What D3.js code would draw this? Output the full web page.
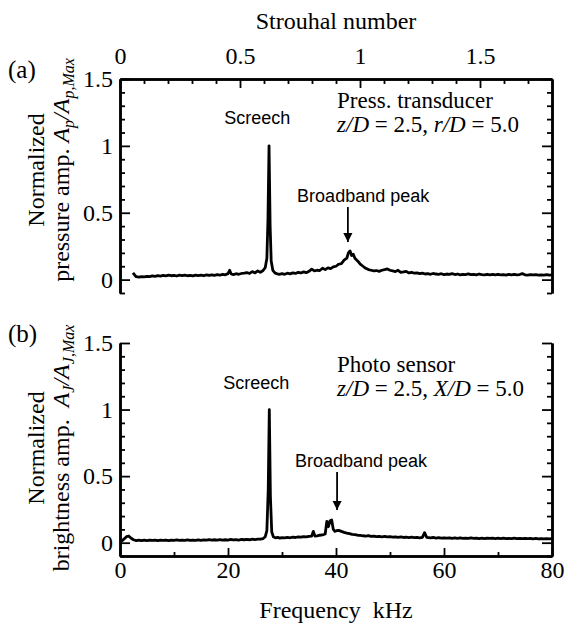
<!DOCTYPE html>
<html><head><meta charset="utf-8">
<script src="https://cdn.jsdelivr.net/npm/d3@7"></script>
<style>body{margin:0;background:#fff}svg{display:block}</style>
</head><body>
<svg id="chart" width="565" height="626"></svg>
<script>
// ---- data ----
const freqTicksMajor = [0, 20, 40, 60, 80];
const freqTicksMinor = [10, 30, 50, 70];
const stTicksMajor = [0, 0.5, 1, 1.5];
const stTicksMinor = [0.1,0.2,0.3,0.4,0.6,0.7,0.8,0.9,1.1,1.2,1.3,1.4,1.6,1.7];
const ampTicksMajor = [0, 0.5, 1, 1.5];
const ampTicksMinor = [-0.1,0.1,0.2,0.3,0.4,0.6,0.7,0.8,0.9,1.1,1.2,1.3,1.4];
const freqDomain = [0, 80];
const stDomain = [0, 1.8];
const ampDomain = [-0.1, 1.5];

// panel (a): pressure transducer spectrum [kHz, normalized amplitude]
const pressure = [[2.4,0.05],[2.7,0.035],[3.0,0.022],[3.5,0.018],[4.0,0.022],[4.5,0.02],[5.0,0.025],[5.5,0.022],[6.0,0.028],[6.5,0.025],[7.0,0.03],[7.5,0.026],[8.0,0.031],[8.5,0.028],[9.0,0.033],[9.5,0.029],[10.0,0.032],[10.5,0.027],[11.0,0.033],[11.5,0.03],[12.0,0.034],[12.5,0.029],[13.0,0.032],[13.5,0.028],[14.0,0.034],[14.5,0.03],[15.0,0.033],[15.5,0.029],[16.0,0.035],[16.5,0.031],[17.0,0.036],[17.5,0.032],[18.0,0.037],[18.5,0.033],[19.0,0.04],[19.5,0.036],[20.0,0.045],[20.3,0.07],[20.6,0.042],[21.0,0.038],[21.5,0.044],[22.0,0.04],[22.5,0.046],[23.0,0.048],[23.5,0.052],[24.0,0.046],[24.5,0.06],[25.0,0.05],[25.5,0.065],[26.0,0.055],[26.5,0.068],[26.9,0.09],[27.2,0.16],[27.4,0.45],[27.6,1.0],[27.8,0.4],[28.0,0.14],[28.3,0.07],[28.7,0.05],[29.0,0.045],[29.5,0.04],[30.0,0.044],[30.5,0.04],[31.0,0.048],[31.5,0.043],[32.0,0.05],[32.5,0.046],[33.0,0.055],[33.5,0.05],[34.0,0.058],[34.5,0.052],[35.0,0.062],[35.5,0.078],[36.0,0.065],[36.5,0.07],[37.0,0.068],[37.5,0.085],[38.0,0.075],[38.5,0.088],[39.0,0.082],[39.5,0.095],[40.0,0.1],[40.5,0.115],[41.0,0.12],[41.5,0.145],[42.0,0.16],[42.3,0.2],[42.6,0.215],[42.9,0.18],[43.2,0.19],[43.5,0.16],[44.0,0.14],[44.5,0.115],[45.0,0.1],[45.5,0.085],[46.0,0.075],[46.5,0.07],[47.0,0.065],[47.5,0.068],[48.0,0.062],[48.5,0.07],[49.0,0.075],[49.5,0.08],[50.0,0.07],[50.5,0.065],[51.0,0.06],[51.5,0.07],[52.0,0.055],[52.5,0.058],[53.0,0.062],[53.5,0.05],[54.0,0.055],[54.5,0.048],[55.0,0.05],[55.5,0.045],[56.0,0.048],[56.5,0.042],[57.0,0.045],[57.5,0.04],[58.0,0.046],[58.5,0.042],[59.0,0.04],[59.5,0.044],[60.0,0.038],[60.5,0.042],[61.0,0.04],[61.5,0.045],[62.0,0.038],[62.5,0.042],[63.0,0.036],[63.5,0.04],[64.0,0.038],[64.5,0.043],[65.0,0.037],[65.5,0.04],[66.0,0.036],[66.5,0.042],[67.0,0.038],[67.5,0.035],[68.0,0.04],[68.5,0.036],[69.0,0.039],[69.5,0.035],[70.0,0.04],[70.5,0.036],[71.0,0.038],[71.5,0.034],[72.0,0.039],[72.5,0.036],[73.0,0.04],[73.5,0.035],[74.0,0.038],[74.5,0.045],[75.0,0.036],[75.5,0.034],[76.0,0.038],[76.5,0.035],[77.0,0.037],[77.5,0.033],[78.0,0.036],[78.5,0.034],[79.0,0.037],[79.5,0.033],[80.0,0.035]];

// panel (b): photo sensor spectrum [kHz, normalized amplitude]
const brightness = [[0.3,0.01],[0.8,0.03],[1.2,0.045],[1.6,0.05],[2.0,0.035],[2.5,0.022],[3.0,0.016],[3.5,0.019],[4.0,0.015],[4.5,0.019],[5.0,0.016],[5.5,0.02],[6.0,0.017],[6.5,0.019],[7.0,0.015],[7.5,0.019],[8.0,0.017],[8.5,0.02],[9.0,0.016],[9.5,0.019],[10.0,0.017],[10.5,0.021],[11.0,0.017],[11.5,0.02],[12.0,0.018],[12.5,0.021],[13.0,0.017],[13.5,0.02],[14.0,0.018],[14.5,0.022],[15.0,0.018],[15.5,0.021],[16.0,0.019],[16.5,0.023],[17.0,0.019],[17.5,0.022],[18.0,0.02],[18.5,0.023],[19.0,0.019],[19.5,0.022],[20.0,0.02],[20.5,0.024],[21.0,0.021],[21.5,0.023],[22.0,0.02],[22.5,0.024],[23.0,0.022],[23.5,0.025],[24.0,0.022],[24.5,0.026],[25.0,0.023],[25.5,0.027],[26.0,0.026],[26.5,0.031],[26.9,0.045],[27.2,0.09],[27.45,0.4],[27.65,1.0],[27.85,0.35],[28.1,0.08],[28.4,0.045],[28.8,0.036],[29.2,0.04],[29.6,0.034],[30.0,0.038],[30.5,0.036],[31.0,0.04],[31.5,0.037],[32.0,0.042],[32.5,0.039],[33.0,0.044],[33.5,0.041],[34.0,0.046],[34.5,0.043],[35.0,0.048],[35.5,0.05],[35.8,0.085],[36.1,0.05],[36.5,0.052],[37.0,0.056],[37.5,0.058],[38.0,0.065],[38.3,0.16],[38.6,0.12],[38.9,0.165],[39.2,0.17],[39.5,0.1],[39.8,0.085],[40.1,0.09],[40.5,0.092],[41.0,0.085],[41.5,0.078],[42.0,0.072],[42.5,0.068],[43.0,0.062],[43.5,0.06],[44.0,0.056],[44.5,0.055],[45.0,0.052],[45.5,0.05],[46.0,0.053],[46.5,0.048],[47.0,0.05],[47.5,0.046],[48.0,0.048],[48.5,0.044],[49.0,0.047],[49.5,0.043],[50.0,0.045],[50.5,0.042],[51.0,0.044],[51.5,0.04],[52.0,0.043],[52.5,0.039],[53.0,0.042],[53.5,0.038],[54.0,0.041],[54.5,0.038],[55.0,0.04],[55.5,0.037],[56.0,0.04],[56.4,0.075],[56.8,0.04],[57.5,0.036],[58.0,0.039],[58.5,0.035],[59.0,0.038],[59.5,0.034],[60.0,0.037],[60.5,0.034],[61.0,0.037],[61.5,0.033],[62.0,0.036],[62.5,0.033],[63.0,0.036],[63.5,0.032],[64.0,0.035],[64.5,0.032],[65.0,0.036],[65.5,0.032],[66.0,0.035],[66.5,0.031],[67.0,0.034],[67.5,0.031],[68.0,0.035],[68.5,0.032],[69.0,0.034],[69.5,0.031],[70.0,0.035],[70.5,0.031],[71.0,0.034],[71.5,0.03],[72.0,0.033],[72.5,0.03],[73.0,0.034],[73.5,0.031],[74.0,0.033],[74.5,0.03],[75.0,0.033],[75.5,0.03],[76.0,0.032],[76.5,0.029],[77.0,0.032],[77.5,0.029],[78.0,0.031],[78.5,0.028],[79.0,0.031],[79.5,0.028],[80.0,0.03]];

// annotation anchors in data units [kHz, amplitude]
const screechLabel = {a: [19.3, 1.164], b: [19.1, 1.155]};
const broadbandLabel = {a: [32.8, 0.58], b: [32.4, 0.569]};
const broadbandArrow = {a: [42.2, 0.543, 0.281], b: [40.2, 0.531, 0.246]};
const infoLabel = {a: [40.2, 1.285, 1.105], b: [40.2, 1.285, 1.105]};

// ---- drawing ----
const svg = d3.select("#chart");
const SERIF = '"Liberation Serif", "Times New Roman", serif';
const SANS = '"Liberation Sans", Arial, sans-serif';
const x = d3.scaleLinear().domain(freqDomain).range([120, 552]);
const st = d3.scaleLinear().domain(stDomain).range([120, 552]);
const yA = d3.scaleLinear().domain(ampDomain).range([293, 79]);
const yB = d3.scaleLinear().domain(ampDomain).range([556, 343]);

function serif(sel, size){ return sel.style("font-family", SERIF).style("font-size", size + "px").attr("fill","#000"); }
function sans(sel, size){ return sel.style("font-family", SANS).style("font-size", size + "px").attr("fill","#000"); }

svg.append("defs").append("marker").attr("id","ah").attr("viewBox","0 0 10 10")
  .attr("refX",10).attr("refY",5).attr("markerWidth",9).attr("markerHeight",13)
  .attr("markerUnits","userSpaceOnUse").attr("orient","auto").attr("preserveAspectRatio","none")
  .append("path").attr("d","M0,1.5 L10,5 L0,8.5 Z").attr("fill","#000");

function styleAxis(g, fs){
  g.select(".domain").attr("stroke","#000").attr("stroke-width",2.5);
  g.selectAll(".tick line").attr("stroke","#000").attr("stroke-width",1.8);
  serif(g.selectAll("text"), fs);
}

function panel(y, data, key, showTop){
  const gl = svg.append("g").attr("transform","translate(120,0)");
  gl.call(d3.axisLeft(y).tickValues(ampTicksMajor).tickSize(-10).tickSizeOuter(0).tickPadding(7).tickFormat(d3.format("")));
  styleAxis(gl, 24);
  const glm = svg.append("g").attr("transform","translate(120,0)");
  glm.call(d3.axisLeft(y).tickValues(ampTicksMinor).tickSize(-5).tickSizeOuter(0).tickFormat(""));
  styleAxis(glm, 24);
  const gr = svg.append("g").attr("transform","translate(552,0)");
  gr.call(d3.axisRight(y).tickValues(ampTicksMajor).tickSize(-10).tickSizeOuter(0).tickFormat(""));
  styleAxis(gr, 24);
  const grm = svg.append("g").attr("transform","translate(552,0)");
  grm.call(d3.axisRight(y).tickValues(ampTicksMinor).tickSize(-5).tickSizeOuter(0).tickFormat(""));
  styleAxis(grm, 24);

  const yTop = y.range()[1], yBot = y.range()[0];
  if (showTop){
    const gt = svg.append("g").attr("transform",`translate(0,${yTop})`);
    gt.call(d3.axisTop(st).tickValues(stTicksMajor).tickSize(-9).tickSizeOuter(0).tickPadding(15).tickFormat(d3.format("")));
    styleAxis(gt, 24);
    const gtm = svg.append("g").attr("transform",`translate(0,${yTop})`);
    gtm.call(d3.axisTop(st).tickValues(stTicksMinor).tickSize(-5).tickSizeOuter(0).tickFormat(""));
    styleAxis(gtm, 24);
  } else {
    const gb = svg.append("g").attr("transform",`translate(0,${yBot})`);
    gb.call(d3.axisBottom(x).tickValues(freqTicksMajor).tickSize(-8).tickSizeOuter(0).tickPadding(5).tickFormat(d3.format("")));
    styleAxis(gb, 24);
    const gbm = svg.append("g").attr("transform",`translate(0,${yBot})`);
    gbm.call(d3.axisBottom(x).tickValues(freqTicksMinor).tickSize(-4).tickSizeOuter(0).tickFormat(""));
    styleAxis(gbm, 24);
  }

  svg.append("path").datum(data)
    .attr("fill","none").attr("stroke","#000").attr("stroke-width",2.8)
    .attr("stroke-linejoin","round")
    .attr("d", d3.line().x(d=>x(d[0])).y(d=>y(d[1])));

  sans(svg.append("text").attr("x",x(screechLabel[key][0])).attr("y",y(screechLabel[key][1])), 18).text("Screech");
  sans(svg.append("text").attr("x",x(broadbandLabel[key][0])).attr("y",y(broadbandLabel[key][1])), 18).text("Broadband peak");
  const ar = broadbandArrow[key];
  svg.append("line").attr("x1",x(ar[0])).attr("x2",x(ar[0])).attr("y1",y(ar[1])).attr("y2",y(ar[2]))
    .attr("stroke","#000").attr("stroke-width",1.8).attr("marker-end","url(#ah)");
}

panel(yA, pressure, "a", true);
panel(yB, brightness, "b", false);

function info(y, key, line1, sym){
  const p = infoLabel[key];
  serif(svg.append("text").attr("x",x(p[0])).attr("y",y(p[1])), 23).text(line1);
  const t = serif(svg.append("text").attr("x",x(p[0])).attr("y",y(p[2])), 23);
  t.append("tspan").style("font-style","italic").text("z/D");
  t.append("tspan").text(" = 2.5, ");
  t.append("tspan").style("font-style","italic").text(sym + "/D");
  t.append("tspan").text(" = 5.0");
}
info(yA, "a", "Press. transducer", "r");
info(yB, "b", "Photo sensor", "X");

serif(svg.append("text").attr("x",8).attr("y",78), 25).text("(a)");
serif(svg.append("text").attr("x",8).attr("y",342), 25).text("(b)");

serif(svg.append("text").attr("x",336).attr("y",29).attr("text-anchor","middle"), 24).text("Strouhal number");
serif(svg.append("text").attr("x",336).attr("y",618).attr("text-anchor","middle"), 24).text("Frequency\u00a0\u00a0kHz");

function ytitle(cy, word, sub){
  serif(svg.append("text").attr("transform",`translate(44,${cy}) rotate(-90)`).attr("text-anchor","middle"), 24).text("Normalized");
  const t = serif(svg.append("text").attr("transform",`translate(69,${cy}) rotate(-90)`).attr("text-anchor","middle"), 24);
  t.append("tspan").text(word + "\u00a0");
  t.append("tspan").style("font-style","italic").text("A");
  t.append("tspan").style("font-style","italic").style("font-size","16px").attr("dy",5).text(sub);
  t.append("tspan").style("font-style","italic").attr("dy",-5).text("/A");
  t.append("tspan").style("font-style","italic").style("font-size","16px").attr("dy",5).text(sub + ",Max");
}
ytitle(170, "pressure amp.", "p");
ytitle(448, "brightness amp.\u00a0", "J");
</script>
</body></html>
